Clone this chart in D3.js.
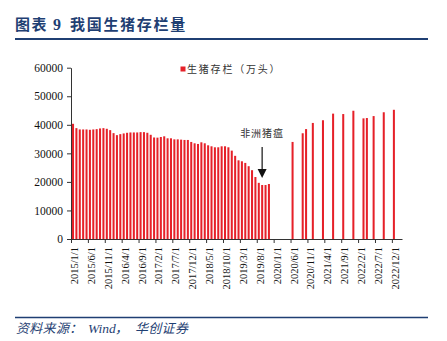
<!DOCTYPE html>
<html><head><meta charset="utf-8">
<script src="https://cdn.jsdelivr.net/npm/d3@7/dist/d3.min.js"></script>
<style>
html,body{margin:0;padding:0;background:#fff;}
svg{display:block;}
</style></head>
<body>
<script>
// ---- data ----
const monthCount = 98; // 2015/1 .. 2023/2 (axis extent)
const seriesName = "生猪存栏（万头）";
const values = [
  40350, 38830, 38370, 38370, 38370, 38250, 38370, 38480, 38720, 38830, 38600, 38130,
  37080, 36380, 36730, 36970, 37200, 37320, 37320, 37320, 37430, 37430, 37200, 36500,
  35560, 35500, 35730, 35970, 35270, 35270, 34900, 34900, 34800, 34690, 34690, 33990,
  33520, 33290, 33870, 33520, 32820, 32470, 32120, 32120, 32470, 32470, 32120, 30950,
  29130, 27560, 27220, 26650, 25500, 24100, 21710, 19670, 18910, 18910, 19260, null,
  null, null, null, null, null, 33996, null, null, 37039, 38500, null, 40650,
  null, null, 41595, null, null, 43911, null, null, 43764, null, null, 44922,
  null, null, 42253, 42370, null, 43057, null, null, 44394, null, null, 45256,
  null, null
];
const tickIndex = [0,5,10,15,20,25,30,35,40,45,50,55,60,65,70,75,80,85,90,95];
const tickLabels = ["2015/1/1","2015/6/1","2015/11/1","2016/4/1","2016/9/1","2017/2/1","2017/7/1",
  "2017/12/1","2018/5/1","2018/10/1","2019/3/1","2019/8/1","2020/1/1","2020/6/1","2020/11/1",
  "2021/4/1","2021/9/1","2022/2/1","2022/7/1","2022/12/1"];
const yTicks = [0,10000,20000,30000,40000,50000,60000];
const titleParts = ["图表", "9", "我国生猪存栏量"];
const sourceParts = ["资料来源：", "Wind", "，", "华创证券"];
const annotation = "非洲猪瘟";
const annotationIndex = 56.5;

// ---- chart ----
const W = 447, H = 341;
const svg = d3.select("body").append("svg").attr("width", W).attr("height", H);
svg.append("rect").attr("width", W).attr("height", H).attr("fill", "#fff");

const navy = "#1f3f73";
const cjk = "'Noto Sans CJK SC'";
const serif = "'Liberation Serif'";
const tg = svg.append("g").attr("fill", navy).attr("font-weight", "bold").attr("font-size", 15);
tg.append("text").attr("x", 15).attr("y", 30).attr("font-family", cjk).attr("letter-spacing", 1.5).text(titleParts[0]);
tg.append("text").attr("x", 53).attr("y", 30).attr("font-family", serif).attr("font-size", 16).text(titleParts[1]);
tg.append("text").attr("x", 70).attr("y", 30).attr("font-family", cjk).attr("letter-spacing", 1.7).text(titleParts[2]);

svg.append("line").attr("x1", 15).attr("x2", 428).attr("y1", 39).attr("y2", 39)
  .attr("stroke", navy).attr("stroke-width", 2);
svg.append("line").attr("x1", 15).attr("x2", 428).attr("y1", 317.5).attr("y2", 317.5)
  .attr("stroke", navy).attr("stroke-width", 1.5);

const sg = svg.append("g").attr("fill", navy).attr("font-style", "italic").attr("font-size", 13);
sg.append("text").attr("x", 16).attr("y", 333).attr("font-family", cjk).attr("letter-spacing", 0.3).text(sourceParts[0]);
sg.append("text").attr("x", 88).attr("y", 333).attr("font-family", serif).attr("font-size", 13.5).text(sourceParts[1]);
sg.append("text").attr("x", 115).attr("y", 333).attr("font-family", cjk).text(sourceParts[2]);
sg.append("text").attr("x", 135).attr("y", 333).attr("font-family", cjk).attr("letter-spacing", 0.3).text(sourceParts[3]);

const x = d3.scaleLinear().domain([0, monthCount]).range([71, 402]);
const y = d3.scaleLinear().domain([0, 60000]).range([239, 67.7]);

const red = "#e62129";
const data = values.map((v, i) => ({i, v})).filter(d => d.v != null);
svg.append("g").selectAll("rect").data(data).join("rect")
  .attr("x", d => x(d.i + 0.3))
  .attr("width", x(0.6) - x(0))
  .attr("y", d => y(d.v))
  .attr("height", d => y(0) - y(d.v))
  .attr("fill", red);

const yAxis = svg.append("g").attr("transform", `translate(${x(0)},0)`)
  .call(d3.axisLeft(y).tickValues(yTicks).tickSize(4).tickSizeOuter(0).tickPadding(4)
    .tickFormat(d3.format("d")));
yAxis.selectAll("text").attr("font-family", serif).attr("font-size", 11.5).attr("fill", "#111");
yAxis.selectAll("line,path").attr("stroke", "#333");

const xAxis = svg.append("g").attr("transform", `translate(0,${y(0)})`)
  .call(d3.axisBottom(x).tickValues(tickIndex).tickSize(4).tickSizeOuter(0)
    .tickFormat((d, k) => tickLabels[k]));
xAxis.selectAll("line,path").attr("stroke", "#333");
xAxis.selectAll("text")
  .attr("font-family", serif).attr("font-size", 10.5).attr("fill", "#111")
  .attr("text-anchor", "end").attr("dy", null).attr("y", null)
  .attr("transform", "translate(3,8) rotate(-90)")
  .attr("dominant-baseline", "central");

// legend
svg.append("rect").attr("x", 180.5).attr("y", 66.5).attr("width", 5).attr("height", 5).attr("fill", red);
svg.append("text").attr("x", 187).attr("y", 73)
  .attr("font-family", cjk).attr("font-size", 10)
  .attr("letter-spacing", 1.8).attr("fill", "#333").text(seriesName);

// annotation
const ax = x(annotationIndex) + 0.3;
svg.append("text").attr("x", ax).attr("y", 137).attr("text-anchor", "middle")
  .attr("font-family", cjk).attr("font-size", 10)
  .attr("letter-spacing", 1).attr("fill", "#333").text(annotation);
svg.append("line").attr("x1", ax).attr("x2", ax).attr("y1", 147).attr("y2", 170)
  .attr("stroke", "#111").attr("stroke-width", 1.2);
svg.append("path").attr("d", `M${ax-4.5},169 L${ax+4.5},169 L${ax},178 Z`).attr("fill", "#111");
</script>
</body></html>
